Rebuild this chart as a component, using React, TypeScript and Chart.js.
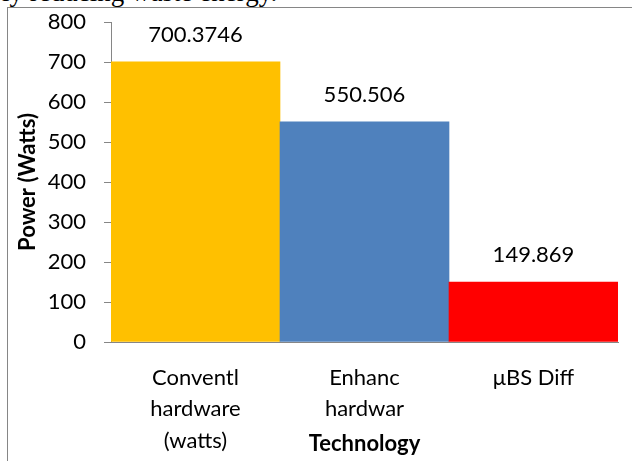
import React, { useEffect, useRef } from 'react';
import { Chart, registerables } from 'chart.js';

Chart.register(...registerables);

// chart values
const categories = [['Conventl', 'hardware', '(watts)'], ['Enhanc', 'hardwar'], ['μBS Diff']];
const powerWatts = [700.3746, 550.506, 149.869];
const valueLabels = ['700.3746', '550.506', '149.869'];
const barColors = ['#FFC000', '#4F81BD', '#FF0000'];
const yMax = 800;
const yStep = 100;

const FONT = 'Lato, "Open Sans", sans-serif';
const AXIS_GRAY = '#868686';

const valueLabelPlugin = {
  id: 'valueLabels',
  afterDatasetsDraw(chart: Chart) {
    const { ctx } = chart;
    const meta = chart.getDatasetMeta(0);
    ctx.save();
    ctx.font = `22px ${FONT}`;
    ctx.fillStyle = '#000';
    ctx.textAlign = 'center';
    ctx.textBaseline = 'middle';
    meta.data.forEach((bar: any, i: number) => {
      ctx.fillText(valueLabels[i], bar.x, bar.y - 27);
    });
    ctx.restore();
  },
};

const PowerChart: React.FC = () => {
  const canvasRef = useRef<HTMLCanvasElement>(null);

  useEffect(() => {
    if (!canvasRef.current) return;
    const chart = new Chart(canvasRef.current, {
      type: 'bar',
      data: {
        labels: categories,
        datasets: [
          {
            data: powerWatts,
            backgroundColor: barColors,
            borderWidth: 0,
            barPercentage: 1,
            categoryPercentage: 1,
          },
        ],
      },
      options: {
        animation: false,
        responsive: true,
        maintainAspectRatio: false,
        layout: { padding: { top: 22, right: 14, left: 0, bottom: 0 } },
        plugins: {
          legend: { display: false },
          title: { display: false },
          tooltip: { enabled: false },
        },
        scales: {
          x: {
            afterFit: (scale: any) => {
              scale.height = 119;
              scale.paddingLeft = 0;
              scale.paddingRight = 0;
            },
            grid: { display: false },
            border: { display: true, color: AXIS_GRAY, width: 1 },
            ticks: {
              color: '#000',
              padding: 12,
              maxRotation: 0,
              autoSkip: false,
              font: { family: FONT, size: 22, lineHeight: 1.43 },
            },
            title: {
              display: true,
              text: 'Technology',
              color: '#000',
              font: { family: FONT, size: 22, weight: 'bold' },
              padding: { top: 0, bottom: 4 },
            },
          },
          y: {
            min: 0,
            max: yMax,
            afterFit: (scale: any) => {
              scale.width = 111;
              scale.paddingTop = 0;
              scale.paddingBottom = 0;
            },
            grid: {
              drawOnChartArea: false,
              drawTicks: true,
              tickLength: 7,
              color: AXIS_GRAY,
            },
            border: { display: true, color: AXIS_GRAY, width: 1 },
            ticks: {
              stepSize: yStep,
              color: '#000',
              padding: 18,
              font: { family: FONT, size: 22 },
            },
            title: {
              display: true,
              text: 'Power (Watts)',
              color: '#000',
              font: { family: FONT, size: 22, weight: 'bold' },
              padding: { top: 15, bottom: 0 },
            },
          },
        },
      },
      plugins: [valueLabelPlugin],
    });
    return () => chart.destroy();
  }, []);

  return <canvas ref={canvasRef} />;
};

export default function App() {
  return (
    <div style={{ position: 'fixed', left: 0, top: 0, width: 632, height: 461, overflow: 'hidden', background: '#fff' }}>
      <div
        style={{
          position: 'absolute',
          left: 2,
          top: -23,
          fontFamily: '"Liberation Serif", "Times New Roman", serif',
          fontSize: 27,
          whiteSpace: 'nowrap',
          color: '#000',
        }}
      >
        ly reducing waste energy.
      </div>
      <div
        style={{
          position: 'absolute',
          left: 7,
          top: 7,
          width: 700,
          height: 500,
          border: `1px solid ${AXIS_GRAY}`,
        }}
      />
      <div style={{ position: 'absolute', left: 0, top: 0, width: 632, height: 461 }}>
        <PowerChart />
      </div>
    </div>
  );
}
